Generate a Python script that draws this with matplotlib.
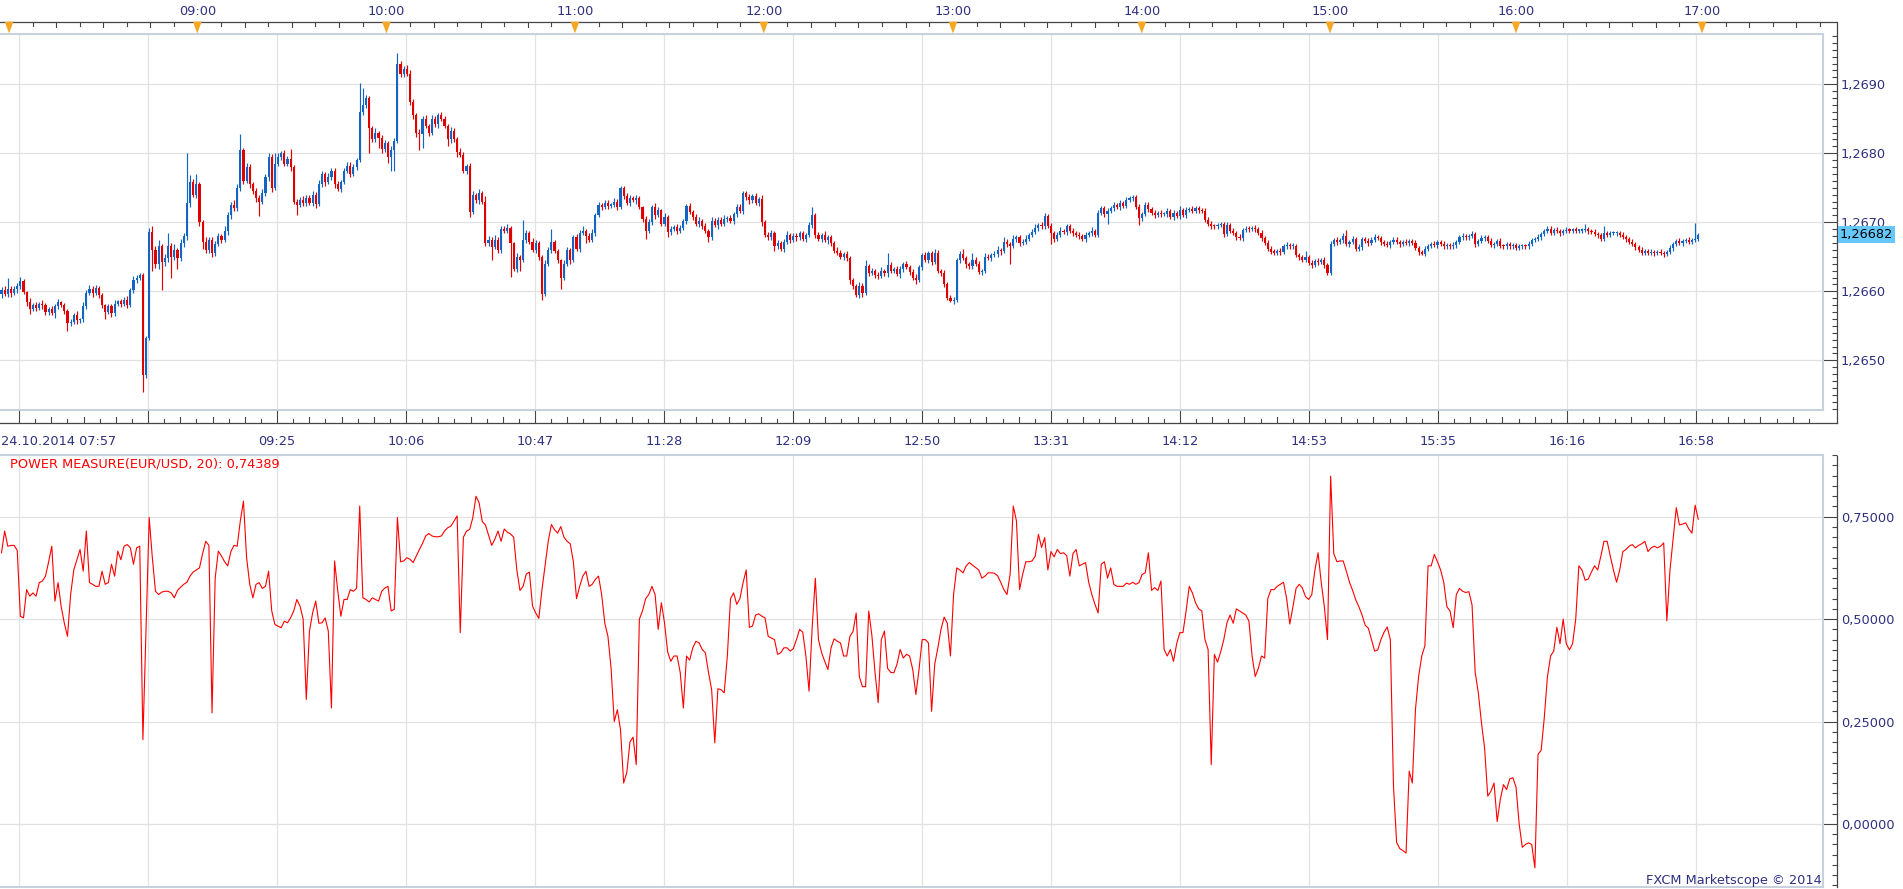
import numpy as np
import matplotlib
matplotlib.use("Agg")
import matplotlib.pyplot as plt
from matplotlib.ticker import MultipleLocator, FuncFormatter

plt.rcParams['font.family'] = ['DejaVu Sans']

# ---------------- data ----------------
date_label = "24.10.2014 07:57"
base_price = 1.2600          # closes are given in pips above this level
first_open_pips = 59.6

close_pips = [
    60.2,59.6,60.4,59.8,60.3,60.8,61.5,59.9,58.5,57.5,   # 0
    58.0,57.6,58.2,58.0,57.0,57.5,56.8,57.8,58.4,58.0,   # 10
    57.2,55.4,55.6,56.6,55.8,56.0,57.8,59.8,60.4,59.8,   # 20
    60.5,59.5,58.0,57.0,57.8,56.8,58.2,58.6,58.2,58.8,   # 30
    58.0,60.2,61.6,62.0,62.4,47.8,53.3,68.6,66.0,64.0,   # 40
    66.5,64.2,64.8,66.5,65.0,66.0,64.8,67.0,68.0,72.8,   # 50
    75.8,74.0,75.5,70.0,67.2,66.0,67.5,65.5,66.8,68.0,   # 60
    67.5,68.8,71.0,72.5,72.0,75.0,80.5,76.0,78.0,75.5,   # 70
    74.5,73.5,73.0,74.2,76.5,79.5,75.0,78.5,79.5,80.0,   # 80
    78.5,79.2,78.0,73.0,72.5,73.2,72.8,73.5,72.8,74.0,   # 90
    72.6,75.5,77.0,75.8,76.5,77.5,75.5,74.8,75.8,77.5,   # 100
    78.2,77.0,78.0,79.0,86.0,87.0,88.0,83.6,82.0,83.0,   # 110
    82.2,80.6,81.5,79.5,80.5,81.8,93.0,91.5,92.2,91.5,   # 120
    87.4,85.5,83.0,82.8,85.0,84.0,83.0,85.0,84.2,85.5,   # 130
    85.0,84.0,82.0,83.2,82.0,80.2,79.8,77.5,78.2,71.5,   # 140
    74.0,73.2,74.2,73.0,67.0,67.5,66.4,67.5,66.0,69.0,   # 150
    68.8,69.2,67.0,63.2,65.0,64.6,67.5,68.5,67.2,66.0,   # 160
    67.0,65.0,59.6,64.0,66.0,67.2,65.8,64.5,62.0,64.0,   # 170
    66.0,64.5,67.8,66.2,68.5,68.8,68.0,67.5,68.5,71.0,   # 180
    72.5,72.2,72.8,72.4,72.5,73.0,72.2,75.0,73.8,72.8,   # 190
    73.5,73.2,73.5,72.2,70.5,68.8,70.0,72.2,71.0,71.8,   # 200
    69.8,70.8,68.6,69.0,69.3,68.8,69.2,70.2,72.4,71.5,   # 210
    70.8,69.8,70.2,69.5,68.8,67.8,70.2,69.6,70.4,69.8,   # 220
    70.5,70.6,70.2,71.2,72.2,71.6,74.2,73.6,73.2,73.8,   # 230
    72.8,73.4,70.0,68.2,67.8,68.4,66.5,67.0,66.2,67.2,   # 240
    68.2,67.4,68.0,67.8,68.4,67.6,68.2,69.6,71.0,68.2,   # 250
    67.6,68.2,67.4,67.8,67.0,65.9,65.6,65.0,65.4,64.8,   # 260
    61.6,60.8,59.5,60.8,59.8,63.6,62.6,63.0,62.4,62.2,   # 270
    63.0,62.6,63.8,63.0,63.2,62.5,63.2,64.0,63.5,62.8,   # 280
    62.0,61.6,63.5,65.2,64.6,65.5,64.2,65.6,63.0,62.7,   # 290
    61.0,59.0,58.6,58.8,64.5,65.4,64.8,63.9,63.6,64.6,   # 300
    64.0,62.8,63.0,65.0,64.8,65.2,65.4,66.0,65.8,67.2,   # 310
    66.8,66.6,67.6,67.8,67.0,67.2,67.6,68.2,68.6,69.2,   # 320
    69.6,69.4,70.9,69.5,68.4,67.6,68.2,68.8,68.6,69.4,   # 330
    68.8,68.4,68.2,68.0,67.6,68.2,68.4,68.8,68.2,71.4,   # 340
    72.0,71.2,71.6,72.0,72.5,72.2,72.8,72.4,73.2,73.5,   # 350
    73.6,72.2,70.6,71.2,72.5,71.9,71.4,71.0,71.4,71.2,   # 360
    71.2,71.6,70.8,71.4,70.9,71.8,71.0,71.8,71.9,71.7,   # 370
    72.0,71.8,71.6,70.4,69.8,69.5,69.4,69.6,69.7,68.3,   # 380
    69.6,68.8,68.5,67.9,67.7,68.9,69.1,69.0,69.2,69.0,   # 390
    68.5,67.7,67.0,66.2,65.7,65.6,65.9,65.7,66.5,66.7,   # 400
    66.5,66.6,65.2,64.9,64.6,65.0,64.1,63.8,64.4,64.2,   # 410
    64.5,63.8,62.7,66.9,67.4,67.1,67.4,68.0,66.8,67.2,   # 420
    67.6,66.1,66.4,67.6,67.3,67.0,67.5,67.9,67.7,67.1,   # 430
    66.9,66.7,67.2,67.5,67.2,66.8,67.2,67.0,67.3,67.0,   # 440
    66.3,65.7,65.4,66.2,66.6,66.9,66.7,67.2,66.9,66.5,   # 450
    66.7,66.5,66.7,67.1,67.8,68.0,67.8,68.0,68.3,66.8,   # 460
    67.3,67.7,67.9,67.3,66.7,66.9,67.3,66.6,66.5,66.8,   # 470
    66.5,66.7,66.3,66.5,66.6,66.5,66.9,67.4,67.6,67.9,   # 480
    68.3,68.8,69.1,68.5,68.9,68.7,68.4,68.7,68.9,68.8,   # 490
    68.9,68.8,68.8,68.9,69.0,68.7,68.6,68.3,68.1,67.6,   # 500
    68.4,68.2,68.4,68.4,68.5,68.2,67.9,67.6,67.2,66.8,   # 510
    66.4,66.0,65.6,65.8,65.5,65.7,65.5,65.7,65.5,65.4,   # 520
    65.7,66.3,66.8,67.3,67.0,67.3,67.4,67.2,67.4,67.6,   # 530
    68.2,                                                # 540
]

# upper / lower shadow length of each candle, tenths of a pip
wick_up = [
    4,6,16,3,5,4,6,3,2,5,  3,4,2,5,3,2,4,3,5,2,
    3,2,4,3,5,2,6,4,5,3,  4,2,3,2,4,3,5,2,3,4,
    5,3,6,4,3,3,2,6,8,5,  10,4,6,20,5,8,3,6,4,72,
    10,5,15,4,3,6,4,3,5,4,  3,6,5,4,8,5,23,3,6,4,
    3,5,4,6,5,5,4,15,6,4,  5,4,14,3,4,5,6,4,5,6,
    4,6,5,3,6,4,3,5,4,3,  6,5,4,3,42,24,5,3,4,6,
    3,5,4,3,6,4,15,4,5,6,  6,4,3,5,4,6,3,5,4,3,
    5,4,3,6,4,3,5,4,3,4,  5,3,6,4,8,5,3,6,4,5,
    4,6,3,2,5,3,28,4,3,5,  4,3,2,5,4,19,3,4,2,5,
    4,3,3,5,4,6,3,4,5,3,  4,3,5,4,3,5,4,2,3,4,
    5,3,4,3,2,4,5,3,6,4,  1,5,3,4,3,5,4,3,2,4,
    3,4,5,3,4,3,5,4,3,4,  5,3,4,3,5,4,4,3,5,3,
    4,3,5,3,4,5,3,4,3,4,  5,3,4,5,3,4,3,5,12,3,
    4,3,5,3,4,3,5,4,3,4,  3,4,3,5,4,9,3,4,3,4,
    5,3,17,4,3,4,5,3,4,3,  4,5,3,4,5,4,3,5,4,3,
    4,3,5,4,3,4,7,3,4,10,  3,4,3,5,4,3,4,5,3,6,
    4,3,5,4,3,4,5,3,4,5,  3,4,5,3,4,3,4,5,3,4,
    3,4,3,4,3,4,3,5,3,4,  4,3,4,3,4,3,4,3,4,3,
    4,3,4,3,4,5,3,4,3,4,  3,4,3,4,3,5,3,4,3,4,
    3,4,3,4,3,4,3,3,4,3,  4,3,4,3,4,3,4,3,3,4,
    3,4,3,4,3,4,3,4,3,4,  3,4,3,4,3,8,3,4,3,4,
    3,4,3,4,3,4,3,4,9,3,  4,3,4,3,3,4,3,4,3,3,
    3,4,3,3,4,3,3,4,3,3,  4,3,3,4,3,3,4,3,3,4,
    3,3,4,3,3,4,3,3,4,3,  3,4,3,3,4,3,3,4,3,3,
    4,3,3,4,3,3,4,3,3,4,  3,3,4,3,3,4,3,3,4,3,
    3,4,3,3,7,3,3,4,3,3,  10,3,3,4,3,3,4,3,3,4,
    3,3,4,3,3,4,3,3,4,3,  3,4,3,3,4,3,3,4,3,23,
    3,
]
wick_dn = [
    5,3,4,6,3,5,4,3,6,8,  4,5,3,6,4,5,3,6,4,3,
    5,11,4,3,6,4,5,3,4,6,  3,5,4,10,3,5,4,3,5,4,
    4,3,5,4,3,24,3,4,30,6,  8,40,5,6,30,5,15,4,6,5,
    6,4,5,6,10,4,5,5,4,3,  5,4,6,5,4,3,4,5,3,6,
    4,5,21,3,4,5,6,3,4,5,  4,3,5,4,15,3,4,5,3,4,
    6,3,4,5,3,4,5,3,4,3,  4,5,3,4,3,5,4,36,4,3,
    15,6,4,9,20,30,3,5,4,3,  4,5,6,23,20,4,5,3,4,5,
    3,4,10,5,4,8,3,4,5,7,  3,4,5,3,4,5,18,3,4,5,
    4,3,49,3,4,16,3,5,4,3,  4,5,9,3,4,5,3,4,16,3,
    4,5,3,4,5,3,10,4,3,5,  3,4,3,5,4,3,4,3,4,3,
    4,3,5,3,4,12,3,4,5,3,  4,3,8,4,3,5,4,3,4,3,
    4,3,5,4,3,7,4,3,5,4,  3,4,3,5,4,3,4,3,5,4,
    3,4,5,3,4,3,7,4,3,5,  3,4,3,5,4,3,4,3,4,5,
    3,4,3,5,4,3,4,3,5,4,  6,4,3,4,6,3,4,3,5,4,
    3,4,5,3,4,3,5,4,3,4,  3,5,3,4,3,5,4,3,4,5,
    4,3,1,4,3,4,3,5,4,3,  4,3,5,4,3,4,3,4,5,3,
    4,26,3,4,5,3,4,3,4,3,  4,3,4,3,16,4,3,4,3,4,
    3,4,3,4,3,4,3,4,3,4,  3,4,15,3,4,3,4,3,4,3,
    4,3,10,4,3,4,3,4,3,4,  3,4,3,4,3,4,3,4,3,4,
    3,4,3,4,3,4,3,4,3,4,  3,4,3,4,3,4,3,4,3,4,
    3,4,3,4,3,4,3,4,3,4,  3,4,3,4,3,4,3,4,3,4,
    3,4,3,4,3,4,3,4,3,4,  3,2,3,4,3,4,3,4,3,4,
    3,3,4,3,3,4,3,3,4,3,  3,4,2,3,4,3,3,4,3,3,
    4,3,3,4,3,3,4,3,3,4,  3,3,4,3,3,4,3,3,4,3,
    3,4,3,3,4,3,3,4,3,3,  4,3,3,4,3,3,4,3,3,4,
    3,3,4,3,3,4,3,3,4,3,  3,4,3,3,4,3,3,4,3,3,
    4,3,3,4,3,3,4,3,3,4,  3,3,4,3,3,4,3,3,4,3,
    3,
]

power_values = [
    .662,.715,.678,.680,.680,.668,.507,.503,.572,.556,
    .564,.556,.589,.593,.605,.640,.678,.544,.589,.530,
    .490,.458,.560,.620,.645,.670,.617,.715,.589,.585,
    .580,.580,.617,.585,.589,.634,.605,.666,.645,.678,
    .682,.674,.634,.674,.678,.206,.480,.748,.650,.568,
    .560,.566,.568,.568,.564,.552,.570,.578,.585,.590,
    .605,.615,.620,.625,.660,.690,.680,.271,.600,.666,
    .654,.640,.630,.665,.680,.678,.740,.788,.650,.585,
    .552,.585,.589,.575,.580,.617,.520,.487,.483,.479,
    .495,.491,.503,.520,.548,.532,.500,.304,.470,.515,
    .544,.490,.491,.503,.471,.283,.642,.570,.507,.548,
    .548,.572,.568,.575,.776,.552,.548,.542,.552,.548,
    .544,.568,.576,.580,.520,.524,.748,.640,.642,.650,
    .646,.638,.654,.670,.685,.703,.709,.703,.701,.701,
    .703,.715,.723,.727,.739,.752,.467,.700,.715,.719,
    .748,.800,.784,.738,.730,.705,.680,.695,.715,.690,
    .720,.712,.708,.700,.620,.570,.580,.610,.615,.532,
    .515,.502,.572,.630,.690,.731,.718,.710,.726,.700,
    .690,.684,.640,.550,.580,.605,.617,.580,.585,.597,
    .605,.560,.490,.458,.380,.250,.279,.230,.100,.125,
    .200,.212,.145,.500,.520,.550,.560,.580,.560,.475,
    .540,.491,.420,.397,.410,.410,.370,.283,.410,.400,
    .430,.446,.442,.426,.418,.370,.328,.198,.330,.328,
    .320,.410,.550,.564,.536,.550,.589,.620,.480,.483,
    .510,.513,.507,.503,.458,.454,.450,.414,.418,.430,
    .430,.422,.428,.450,.475,.468,.410,.324,.480,.600,
    .450,.418,.397,.377,.430,.452,.446,.442,.410,.410,
    .458,.470,.515,.360,.335,.335,.520,.460,.370,.296,
    .450,.471,.380,.370,.369,.390,.426,.405,.414,.410,
    .377,.316,.377,.450,.450,.442,.275,.390,.430,.475,
    .505,.490,.410,.560,.625,.620,.613,.630,.638,.632,
    .626,.620,.600,.605,.613,.613,.612,.606,.590,.572,
    .560,.610,.776,.740,.572,.610,.640,.640,.642,.654,
    .707,.675,.699,.620,.665,.652,.670,.660,.662,.655,
    .605,.660,.670,.630,.634,.638,.590,.560,.536,.515,
    .634,.640,.600,.625,.585,.580,.580,.580,.588,.585,
    .590,.585,.589,.609,.613,.662,.570,.577,.570,.593,
    .426,.410,.426,.397,.440,.467,.467,.520,.580,.564,
    .540,.525,.520,.450,.426,.145,.414,.395,.420,.450,
    .491,.510,.490,.525,.520,.515,.510,.495,.410,.360,
    .380,.410,.405,.550,.572,.572,.580,.585,.590,.550,
    .488,.530,.575,.585,.576,.555,.548,.560,.620,.662,
    .590,.530,.450,.849,.660,.640,.642,.642,.617,.590,
    .570,.547,.530,.510,.485,.478,.450,.422,.425,.450,
    .468,.481,.450,.092,-.045,-.060,-.065,-.071,.129,.100,
    .280,.360,.410,.435,.630,.630,.658,.640,.620,.590,
    .530,.520,.479,.560,.575,.568,.565,.567,.535,.370,
    .320,.247,.185,.068,.080,.100,.006,.060,.096,.084,
    .110,.113,.090,.000,-.057,-.050,-.046,-.050,-.107,.170,
    .180,.260,.360,.410,.422,.480,.440,.500,.440,.425,
    .440,.500,.630,.620,.595,.598,.615,.630,.620,.654,
    .690,.690,.654,.620,.590,.620,.665,.670,.678,.682,
    .674,.680,.684,.690,.665,.674,.678,.674,.678,.686,
    .496,.620,.695,.772,.730,.732,.735,.720,.710,.778,
    .74389,
]
power_title = "POWER MEASURE(EUR/USD, 20): 0,74389"
last_price = 1.26682
last_price_label = "1,26682"

# time axes (positions are in bar index units)
hour_labels = ["", "09:00", "10:00", "11:00", "12:00", "13:00", "14:00", "15:00", "16:00", "17:00"]
hour_pos = [2.4, 62.3, 122.5, 182.5, 242.6, 302.8, 362.9, 422.8, 482.0, 541.2]
grid_labels = ["", "", "09:25", "10:06", "10:47", "11:28", "12:09", "12:50",
               "13:31", "14:12", "14:53", "15:35", "16:16", "16:58"]
grid_pos = [5.6, 46.65, 87.7, 128.75, 169.8, 210.85, 251.9, 292.95,
            334.0, 375.05, 416.1, 457.15, 498.2, 539.25]
price_ticks = [1.2650, 1.2660, 1.2670, 1.2680, 1.2690]
power_ticks = [0.0, 0.25, 0.50, 0.75]

# ---------------- styling ----------------
W, H = 1903, 889
BLUE = '#1464c4'
RED = '#e00000'
BORDER = '#c8d2df'
GRID = '#e2e2e2'
AXC = '#454545'
LBL = '#2e3080'
ORANGE = '#f5a623'
FS = 9.3
XL = (-0.48, 579.6)

fig = plt.figure(figsize=(W / 100, H / 100), dpi=100)
fig.patch.set_facecolor('white')


def fig_rect(left, top, right, bottom):
    return [left / W, 1 - bottom / H, (right - left) / W, (bottom - top) / H]


ax = fig.add_axes(fig_rect(0, 33.7, 1822.7, 410))
bx = fig.add_axes(fig_rect(0, 455, 1822.7, 887))
AXX = 1837.3 / 1822.7   # right axis line position, axes fraction


def style_panel(a, ylim, ticks, minor, fmt):
    a.set_xlim(*XL)
    a.set_ylim(*ylim)
    a.set_xticks([])
    a.spines['left'].set_visible(False)
    for s in ('top', 'bottom'):
        a.spines[s].set_color(BORDER)
        a.spines[s].set_linewidth(1.5)
    a.spines['right'].set_position(('axes', AXX))
    a.spines['right'].set_visible(False)
    a.plot([1, 1], [0, 1], transform=a.transAxes, color=BORDER, lw=1.5,
           clip_on=False, zorder=6)
    a.yaxis.set_ticks_position('right')
    a.set_yticks(ticks)
    a.yaxis.set_minor_locator(MultipleLocator(minor))
    a.yaxis.set_major_formatter(FuncFormatter(fmt))
    a.tick_params(axis='y', which='major', direction='in', length=10.5, width=0.8,
                  color=AXC, pad=2.7, labelsize=FS, labelcolor=LBL)
    a.tick_params(axis='y', which='minor', direction='in', length=3.6, width=0.8,
                  color=AXC)
    for t in ticks:
        a.axhline(t, color=GRID, lw=0.9, zorder=0.5)
    a.vlines(grid_pos, ylim[0], ylim[1], color=GRID, lw=0.9, zorder=0.5)


style_panel(ax, (1.264280, 1.269733), price_ticks, 0.0001,
            lambda v, _: f"{v:.4f}".replace('.', ','))
style_panel(bx, (-0.1538, 0.9006), power_ticks, 0.025,
            lambda v, _: f"{v:.5f}".replace('.', ','))

# ---------------- candles ----------------
n = min(len(close_pips), len(wick_up), len(wick_dn))
c_p = np.array(close_pips[:n])
o_p = np.concatenate([[first_open_pips], c_p[:-1]])
hi_p = np.maximum(o_p, c_p) + np.array(wick_up[:n]) / 10.0
lo_p = np.minimum(o_p, c_p) - np.array(wick_dn[:n]) / 10.0
cl = base_price + c_p / 1e4
op = base_price + o_p / 1e4
hi = base_price + hi_p / 1e4
lo = base_price + lo_p / 1e4
idx = np.arange(n)
cols = np.where(cl >= op, BLUE, RED)
ax.vlines(idx, lo, hi, colors=cols, lw=0.85, zorder=3)
body_lo = np.minimum(op, cl)
body_h = np.maximum(np.abs(cl - op), 0.000018)
ax.bar(idx, body_h, bottom=body_lo, width=0.68, color=cols, linewidth=0, zorder=4)

# ---------------- power line ----------------
pv = np.array(power_values)
bx.plot(np.arange(len(pv)), pv, color='#ff0000', lw=0.8, zorder=3)

# ---------------- axis decorations ----------------
tr = ax.get_xaxis_transform()
Y_TOP_AX = (410 - 21.7) / 376.3
Y_BOT_AX = (410 - 423.3) / 376.3

def ay(px):  # pixel row -> axes fraction of top panel
    return (410 - px) / 376.3

# top time axis line
ax.plot([0, 1836 / 1822.7], [Y_TOP_AX, Y_TOP_AX], transform=ax.transAxes,
        color=AXC, lw=0.9, clip_on=False, zorder=6)
# bottom time axis line
ax.plot([0, AXX], [Y_BOT_AX, Y_BOT_AX], transform=ax.transAxes,
        color=AXC, lw=0.9, clip_on=False, zorder=6)
# right axis lines
ax.plot([AXX, AXX], [Y_BOT_AX, Y_TOP_AX], transform=ax.transAxes,
        color=AXC, lw=0.9, clip_on=False, zorder=6)
bx.plot([AXX, AXX], [(887 - 886.7) / 432, (887 - 456) / 432], transform=bx.transAxes,
        color=AXC, lw=0.9, clip_on=False, zorder=6)

# top ticks every 7.5 minutes
hp = np.array(hour_pos)
step = np.mean(np.diff(hp)) / 8.0
top_ticks = []
x_end_top = XL[0] + 1836 / 1822.7 * (XL[1] - XL[0])
for k in range(len(hp)):
    h0 = hp[k]
    h1 = hp[k + 1] if k + 1 < len(hp) else x_end_top + 0.01
    sub = (h1 - h0) / 8.0 if k + 1 < len(hp) else step
    j = 0
    while h0 + j * sub < min(h1, x_end_top + 0.01):
        top_ticks.append((h0 + j * sub, j % 2))
        j += 1
for x, odd in top_ticks:
    ax.plot([x, x], [Y_TOP_AX, ay(21.7 + (4.3 if odd else 5.7))], transform=tr,
            color=AXC, lw=0.8, clip_on=False, zorder=6)
for x, lab in zip(hour_pos, hour_labels):
    ax.fill([x - 1.4, x + 1.4, x], [Y_TOP_AX, Y_TOP_AX, ay(33.4)], transform=tr,
            color=ORANGE, clip_on=False, zorder=7, lw=0)
    if lab:
        ax.text(x, ay(15.2), lab, transform=tr, ha='center', va='baseline',
                fontsize=FS, color=LBL, clip_on=False)

# bottom time ticks
gp = np.array(grid_pos)
gstep = np.mean(np.diff(gp)) / 8.0
xmax_bottom = XL[0] + AXX * (XL[1] - XL[0])
for k in range(len(gp)):
    ax.plot([gp[k], gp[k]], [Y_BOT_AX, ay(411)], transform=tr, color=AXC,
            lw=0.8, clip_on=False, zorder=6)
    for j in range(1, 8):
        x = gp[k] + j * gstep
        if x > xmax_bottom:
            break
        ln = 6.5 if j % 2 == 0 else 4.2
        ax.plot([x, x], [Y_BOT_AX, ay(423.3 - ln)], transform=tr, color=AXC,
                lw=0.8, clip_on=False, zorder=6)
for x, lab in zip(grid_pos, grid_labels):
    if lab:
        ax.text(x, ay(445), lab, transform=tr, ha='center', va='baseline',
                fontsize=FS, color=LBL, clip_on=False)
ax.text(1 / 1822.7, ay(445), date_label, transform=ax.transAxes, ha='left',
        va='baseline', fontsize=FS, color=LBL, clip_on=False)

# last price box
ax.text(1840 / 1822.7, last_price, last_price_label,
        transform=ax.get_yaxis_transform(), ha='left', va='center',
        fontsize=FS, color='black', clip_on=False, zorder=10,
        bbox=dict(boxstyle='square,pad=0.15', facecolor='#66c8fa', edgecolor='none'))

# indicator title and watermark
bx.text(10 / 1822.7, (887 - 467.7) / 432, power_title, transform=bx.transAxes,
        ha='left', va='baseline', fontsize=FS, color='#ff0000')
bx.text(1821.7 / 1822.7, (887 - 884) / 432, "FXCM Marketscope \u00a9 2014",
        transform=bx.transAxes, ha='right', va='baseline', fontsize=FS, color=LBL)

fig.savefig("out.png", dpi=100)
